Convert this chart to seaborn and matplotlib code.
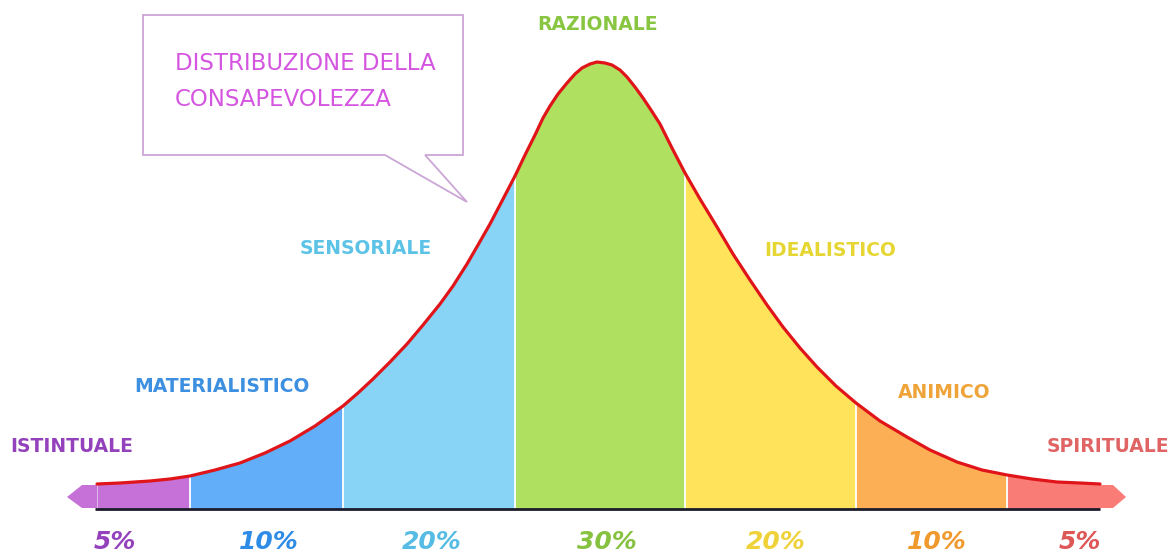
import numpy as np
import pandas as pd
import seaborn as sns
import matplotlib.pyplot as plt
from matplotlib.patches import Polygon

# Data
levels = ["ISTINTUALE", "MATERIALISTICO", "SENSORIALE", "RAZIONALE",
          "IDEALISTICO", "ANIMICO", "SPIRITUALE"]
percents = ["5%", "10%", "20%", "30%", "20%", "10%", "5%"]

# bell curve (x = level axis, y = height)
curve_x = [-5.03, -4.80, -4.50, -4.30, -4.10, -3.85, -3.60, -3.35, -3.10, -2.85,
           -2.57, -2.42, -2.27, -2.10, -1.93, -1.77, -1.60, -1.47, -1.33, -1.22,
           -1.10, -0.98, -0.85, -0.75, -0.65, -0.57, -0.50, -0.42, -0.33, -0.25,
           -0.18, -0.10, -0.03, 0.05, 0.12, 0.20, 0.27, 0.35, 0.43, 0.51,
           0.60, 0.72, 0.85, 1.00, 1.17, 1.33, 1.50, 1.67, 1.83, 2.00,
           2.17, 2.36, 2.56, 2.80, 3.07, 3.30, 3.57, 3.82, 4.07, 4.32,
           4.57, 4.80, 5.00]
curve_y = [0.25, 0.26, 0.28, 0.30, 0.33, 0.39, 0.46, 0.56, 0.68, 0.83,
           1.03, 1.16, 1.30, 1.47, 1.65, 1.84, 2.05, 2.23, 2.45, 2.64,
           2.85, 3.08, 3.33, 3.54, 3.74, 3.91, 4.03, 4.15, 4.26, 4.35,
           4.41, 4.45, 4.47, 4.46, 4.44, 4.39, 4.32, 4.22, 4.11, 3.99,
           3.85, 3.61, 3.36, 3.10, 2.82, 2.55, 2.29, 2.04, 1.82, 1.61,
           1.42, 1.23, 1.06, 0.88, 0.72, 0.59, 0.47, 0.39, 0.34, 0.30,
           0.27, 0.26, 0.25]
bounds = [-5.03, -4.10, -2.57, -0.85, 0.85, 2.56, 4.07, 5.00]

fill_colors = ["#C571D8", "#63AEF8", "#87D4F6", "#AFE060",
               "#FEE35B", "#FDAF56", "#FA7C77"]
label_colors = ["#9442BC", "#3D8FE0", "#5CC3E6", "#88C540",
                "#E6D633", "#EFA43A", "#E06464"]
pct_colors = ["#9442BC", "#2E8BE6", "#56BCE4", "#86C140",
              "#EFD23A", "#F09A2E", "#DE5757"]

df = pd.DataFrame({"x": curve_x, "y": curve_y})

sns.set_theme(style="white")
plt.rcParams['font.family'] = ['DejaVu Sans']

fig = plt.figure(figsize=(11.72, 5.54), dpi=100)
ax = fig.add_axes([0, 0, 1, 1])
ax.set_xlim(-6.0, 5.72)
ax.set_ylim(-0.45, 5.09)
ax.axis("off")

# coloured segments under the curve
xs = np.array(curve_x)
ys = np.array(curve_y)
for i in range(7):
    lo, hi = bounds[i], bounds[i + 1]
    m = (xs >= lo - 1e-9) & (xs <= hi + 1e-9)
    ax.fill_between(xs[m], 0, ys[m], color=fill_colors[i], lw=0, zorder=1)

# white separators between segments
for b in bounds[1:-1]:
    h = ys[np.argmin(np.abs(xs - b))]
    ax.vlines(b, 0, h, color="white", lw=1.3, zorder=2)

# arrow ends of the band
band = 0.24
left = Polygon([(curve_x[0], 0.01), (curve_x[0], band), (curve_x[0] - 0.15, band),
                (curve_x[0] - 0.30, band / 2), (curve_x[0] - 0.15, 0.01)],
               closed=True, fc=fill_colors[0], ec="none", zorder=1)
right = Polygon([(curve_x[-1], 0.01), (curve_x[-1], band), (curve_x[-1] + 0.13, band),
                 (curve_x[-1] + 0.26, band / 2), (curve_x[-1] + 0.13, 0.01)],
                closed=True, fc=fill_colors[-1], ec="none", zorder=1)
ax.add_patch(left)
ax.add_patch(right)

# baseline
ax.hlines(0, curve_x[0] - 0.02, curve_x[-1], color="#1c1c2c", lw=2.0, zorder=3)

# red outline
sns.lineplot(data=df, x="x", y="y", ax=ax, color="#E0151A", lw=2.3, zorder=4,
             solid_joinstyle="round", solid_capstyle="round")
ax.set_xlabel("")
ax.set_ylabel("")

# level labels
lab_pos = [(-5.90, 0.62, "left"), (-3.78, 1.22, "center"), (-2.34, 2.60, "center"),
           (-0.03, 4.85, "center"), (2.30, 2.59, "center"), (3.44, 1.16, "center"),
           (5.08, 0.62, "center")]
for (lx, ly, ha), name, c in zip(lab_pos, levels, label_colors):
    ax.text(lx, ly, name, color=c, fontsize=13.5, fontweight="bold",
            ha=ha, va="center", zorder=5)

# percentages under the axis
pct_x = [-4.85, -3.31, -1.68, 0.07, 1.76, 3.37, 4.80]
for px, p, c in zip(pct_x, percents, pct_colors):
    ax.text(px, -0.33, p, color=c, fontsize=18, fontweight="bold",
            fontstyle="italic", ha="center", va="center", zorder=5)

# speech bubble
bubble = Polygon([(-4.57, 3.54), (-2.15, 3.54), (-1.33, 3.07), (-1.75, 3.54),
                  (-1.37, 3.54), (-1.37, 4.94), (-4.57, 4.94)],
                 closed=True, fc="white", ec="#CBA6D6", lw=1.3, zorder=5)
ax.add_patch(bubble)
ax.text(-4.25, 4.46, "DISTRIBUZIONE DELLA", color="#D456E0", fontsize=16.5,
        ha="left", va="center", zorder=6)
ax.text(-4.25, 4.09, "CONSAPEVOLEZZA", color="#D456E0", fontsize=16.5,
        ha="left", va="center", zorder=6)

fig.savefig("out.png", dpi=100)
